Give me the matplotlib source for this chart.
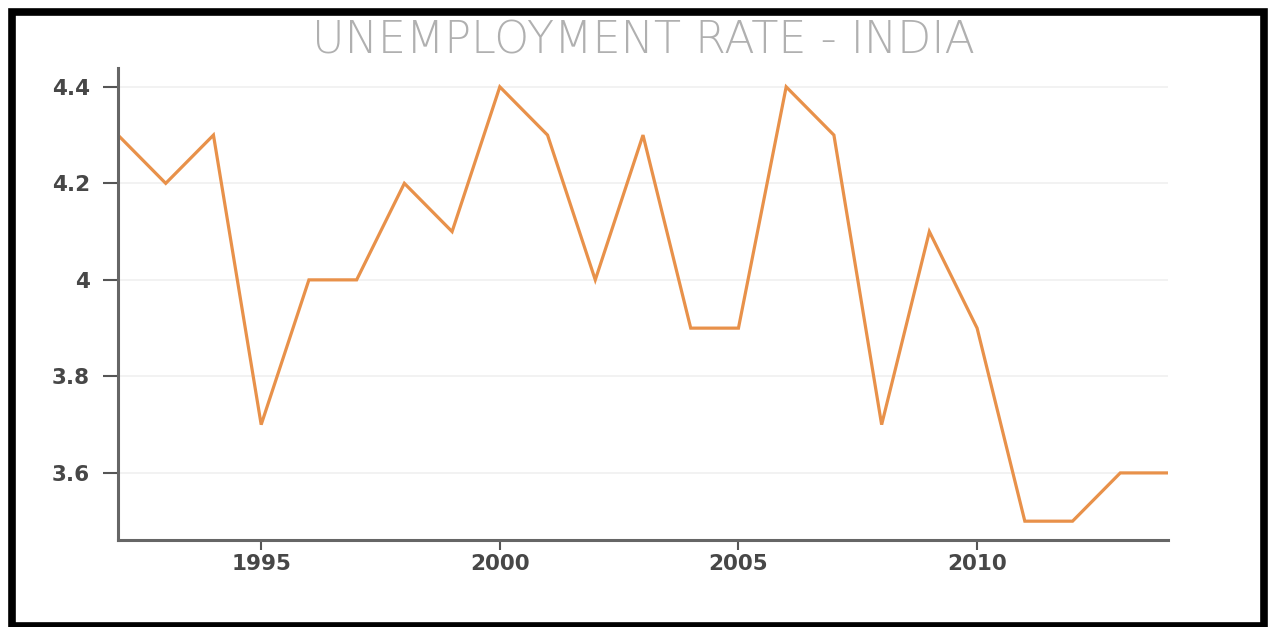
import matplotlib.pyplot as plt
from matplotlib.patches import Rectangle
from matplotlib.ticker import MultipleLocator

# Données : taux de chômage en Inde
years = [1992, 1993, 1994, 1995, 1996, 1997, 1998, 1999, 2000, 2001, 2002, 2003,
         2004, 2005, 2006, 2007, 2008, 2009, 2010, 2011, 2012, 2013, 2014]
rate = [4.3, 4.2, 4.3, 3.7, 4.0, 4.0, 4.2, 4.1, 4.4, 4.3, 4.0, 4.3,
        3.9, 3.9, 4.4, 4.3, 3.7, 4.1, 3.9, 3.5, 3.5, 3.6, 3.6]
y_ticks = [3.6, 3.8, 4.0, 4.2, 4.4]
y_labels = ["3.6", "3.8", "4", "4.2", "4.4"]
x_ticks = [1995, 2000, 2005, 2010]

W, H = 1274, 627
fig = plt.figure(figsize=(W / 100, H / 100), dpi=100)
fig.patch.set_facecolor("white")

ax = fig.add_axes([118 / W, 1 - 540 / H, (1168 - 118) / W, (540 - 68) / H])
ax.plot(years, rate, color="#e8914a", linewidth=2.3, solid_joinstyle="miter")

ax.set_xlim(1992, 2014)
ax.set_ylim(3.461, 4.439)
ax.set_xticks(x_ticks)
ax.set_yticks(y_ticks)
ax.set_yticklabels(y_labels)
ax.xaxis.set_minor_locator(MultipleLocator(10))

# Grille très légère
ax.grid(axis="y", which="major", color="#f0f0f0", linewidth=1.2)
ax.grid(axis="x", which="minor", color="#ececec", linewidth=1.2)
ax.set_axisbelow(True)

for s in ["top", "right"]:
    ax.spines[s].set_visible(False)
for s in ["left", "bottom"]:
    ax.spines[s].set_color("#666666")
    ax.spines[s].set_linewidth(2.2)

ax.tick_params(axis="both", which="major", width=1.5, color="#555555",
               labelsize=15.5, labelcolor="#474747")
ax.tick_params(axis="y", which="major", length=11, pad=9)
ax.tick_params(axis="x", which="major", length=7, pad=3)
ax.tick_params(axis="x", which="minor", length=0)
for lab in ax.get_xticklabels() + ax.get_yticklabels():
    lab.set_fontweight("bold")

# Titre
fig.text(643 / W, 1 - 41 / H, "UNEMPLOYMENT RATE - INDIA", ha="center", va="center",
         fontsize=32, color="#b0b0b0", fontweight="ultralight")

# Cadre noir autour de l'image
fig.patches.append(Rectangle((11.5 / W, 1 - 626 / H), (1264 - 11.5) / W, (626 - 12) / H,
                             transform=fig.transFigure, fill=False,
                             edgecolor="black", linewidth=5.5, zorder=10))

fig.savefig("out.png", dpi=100)
